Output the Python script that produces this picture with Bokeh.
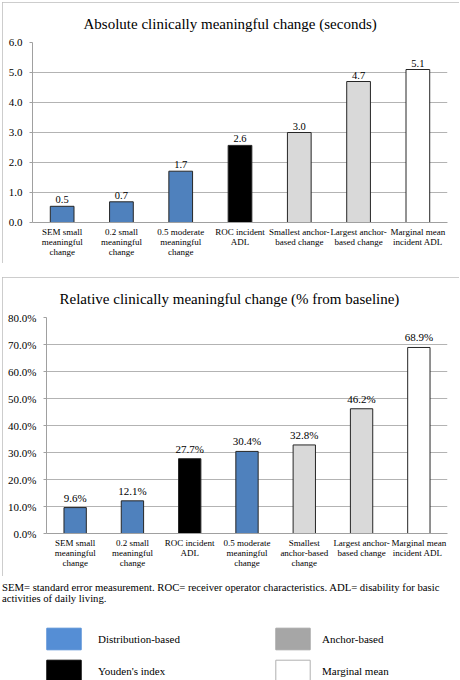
from bokeh.plotting import figure
from bokeh.models import (ColumnDataSource, FactorRange, Range1d, LabelSet, Label,
                          FixedTicker, PrintfTickFormatter, Legend, LegendItem, Spacer)
from bokeh.layouts import column, row
from bokeh.transform import factor_cmap
from bokeh.core.properties import value
from bokeh.embed import file_html
from bokeh.resources import INLINE

SERIF = "Liberation Serif"

# ---------------- data ----------------
abs_title = "Absolute clinically meaningful change (seconds)"
abs_categories = ["SEM small\nmeaningful\nchange", "0.2 small\nmeaningful\nchange",
                  "0.5 moderate\nmeaningful\nchange", "ROC incident\nADL",
                  "Smallest anchor-\nbased change", "Largest anchor-\nbased change",
                  "Marginal mean\nincident ADL"]
abs_values = [0.54, 0.69, 1.71, 2.57, 3.0, 4.7, 5.1]
abs_groups = ["Distribution-based", "Distribution-based", "Distribution-based",
              "Youden's index", "Anchor-based", "Anchor-based", "Marginal mean"]
abs_ticks = [0, 1, 2, 3, 4, 5, 6]

rel_title = "Relative clinically meaningful change (% from baseline)"
rel_categories = ["SEM small\nmeaningful\nchange", "0.2 small\nmeaningful\nchange",
                  "ROC incident\nADL", "0.5 moderate\nmeaningful\nchange",
                  "Smallest\nanchor-based\nchange", "Largest anchor-\nbased change",
                  "Marginal mean\nincident  ADL"]
rel_values = [9.6, 12.1, 27.7, 30.4, 32.8, 46.2, 68.9]
rel_groups = ["Distribution-based", "Distribution-based", "Youden's index",
              "Distribution-based", "Anchor-based", "Anchor-based", "Marginal mean"]
rel_ticks = [0, 10, 20, 30, 40, 50, 60, 70, 80]

group_names = ["Distribution-based", "Youden's index", "Anchor-based", "Marginal mean"]
bar_colors = ["#4f81bd", "#000000", "#d9d9d9", "#ffffff"]
legend_colors = ["#558ed5", "#000000", "#a6a6a6", "#ffffff"]
legend_lines = ["#558ed5", "#000000", "#a6a6a6", "#b0b0b0"]

caption_lines = ["SEM= standard error measurement. ROC= receiver operator characteristics. "
                 "ADL= disability for basic",
                 "activities of daily living."]

BOX_STYLE = {"outline": "1px solid #bdbdbd", "outline-offset": "-1px"}
AXIS_GRAY = "#a0a0a0"


def make_chart(title, cats, vals, groups, labels, ticks, fmt, width, height, left, top,
               bottom, title_offset, title_valign, title_standoff, bar_w, lab_size, lab_off):
    src = ColumnDataSource(dict(cat=cats, val=vals, grp=groups, lab=labels))
    p = figure(width=width, height=height, x_range=FactorRange(factors=cats, range_padding=0),
               y_range=Range1d(ticks[0], ticks[-1]), output_backend="svg",
               toolbar_location=None, min_border_left=left, min_border_right=12,
               min_border_top=top, min_border_bottom=bottom, styles=BOX_STYLE)
    p.vbar(x="cat", top="val", width=bar_w, source=src,
           fill_color=factor_cmap("grp", bar_colors, group_names),
           line_color="#262626", line_width=1)
    p.add_layout(LabelSet(x="cat", y="val", text="lab", source=src, text_align="center",
                          text_baseline="bottom", y_offset=lab_off, text_font=value(SERIF),
                          text_font_size=value(lab_size), text_color="black"))
    p.title.text = title
    p.title.text_font = SERIF
    p.title.text_font_size = "15px"
    p.title.text_font_style = "normal"
    p.title.align = "left"
    p.title.offset = title_offset
    p.title.vertical_align = title_valign
    p.title.standoff = title_standoff
    p.title.text_color = "black"

    p.yaxis.ticker = FixedTicker(ticks=ticks)
    p.yaxis.formatter = PrintfTickFormatter(format=fmt)
    p.yaxis.major_label_text_font = SERIF
    p.yaxis.major_label_text_font_size = "11px"
    p.yaxis.major_label_text_color = "black"
    p.yaxis.axis_line_color = AXIS_GRAY
    p.yaxis.major_tick_line_color = AXIS_GRAY
    p.yaxis.major_tick_out = 3
    p.yaxis.major_tick_in = 0
    p.yaxis.minor_tick_line_color = None
    p.yaxis.major_label_standoff = 7
    p.yaxis.axis_label = None

    p.xaxis.axis_line_color = AXIS_GRAY
    p.xaxis.major_tick_line_color = None
    p.xaxis.major_tick_out = 0
    p.xaxis.major_tick_in = 0
    p.xaxis.major_label_text_font = SERIF
    p.xaxis.major_label_text_font_size = "9px"
    p.xaxis.major_label_text_line_height = 1.0
    p.xaxis.major_label_text_color = "black"
    p.xaxis.major_label_standoff = 4
    p.xaxis.axis_label = None

    p.xgrid.grid_line_color = None
    p.ygrid.grid_line_color = "#b3b3b3"
    p.outline_line_color = None
    p.background_fill_color = "white"
    p.border_fill_color = "white"
    return p


p1 = make_chart(abs_title, abs_categories, abs_values, abs_groups,
                [f"{v:.1f}" for v in abs_values], abs_ticks, "%.1f",
                457, 261, 30, 40, 41, 51, "middle", 20, 0.4, "10.5px", 3)
p2 = make_chart(rel_title, rel_categories, rel_values, rel_groups,
                [f"{v:.1f}%" for v in rel_values], rel_ticks, "%.1f%%",
                457, 299, 44, 40, 43, 13, "top", 18, 0.39, "11px", 4)

# ------------- caption + legend panel -------------
p3 = figure(width=460, height=104, x_range=FactorRange(factors=group_names),
            y_range=Range1d(1, 2), output_backend="svg", toolbar_location=None,
            min_border=0, x_axis_location=None, y_axis_location=None, title=None)
p3.xgrid.grid_line_color = None
p3.ygrid.grid_line_color = None
p3.outline_line_color = None
leg_src = ColumnDataSource(dict(grp=group_names, zero=[0] * len(group_names)))
leg_r = p3.vbar(x="grp", top="zero", width=0.5, source=leg_src,
                fill_color=factor_cmap("grp", legend_colors, group_names),
                line_color=factor_cmap("grp", legend_lines, group_names))

for i, line in enumerate(caption_lines):
    p3.add_layout(Label(x=1.5, y=93.3 - 11 * i, x_units="screen", y_units="screen",
                        text=line, text_baseline="middle", text_font=SERIF,
                        text_font_size="10.7px", text_color="black"))


def make_legend(idx, loc, standoff):
    lg = Legend(items=[LegendItem(label=group_names[i], renderers=[leg_r], index=i)
                       for i in idx],
                location=loc, glyph_width=43, glyph_height=27, spacing=5,
                label_standoff=standoff, padding=0, margin=0, border_line_color=None,
                background_fill_alpha=0, label_text_font=SERIF,
                label_text_font_size="11px", label_text_color="black",
                label_text_baseline="alphabetic")
    p3.add_layout(lg)


make_legend([0, 1], (42, -4), 13)
make_legend([2, 3], (271, -4), 8)

layout = column(Spacer(width=460, height=2),
                row(Spacer(width=2, height=261), p1),
                Spacer(width=460, height=14),
                row(Spacer(width=2, height=299), p2),
                p3)
open("out.html", "w").write(file_html(layout, INLINE))
